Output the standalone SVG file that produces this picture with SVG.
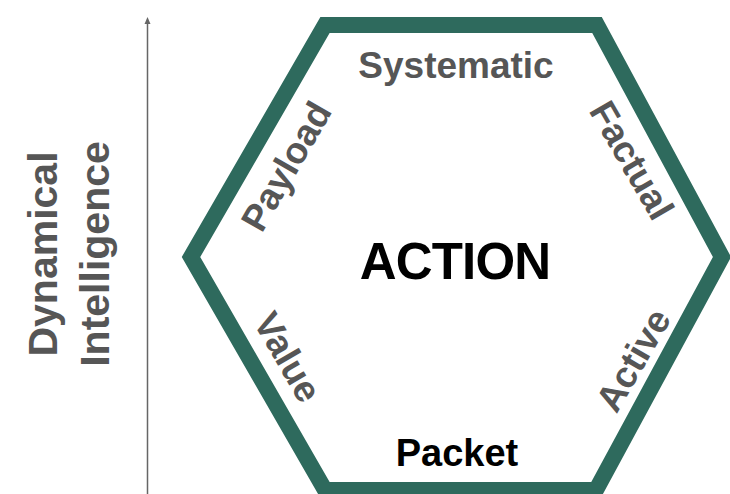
<svg xmlns="http://www.w3.org/2000/svg" width="730" height="494" viewBox="0 0 730 494">
<style>
.lbl{font-family:"Liberation Sans",Arial,sans-serif;font-weight:bold;fill:#565656;text-anchor:middle}
.blk{font-family:"Liberation Sans",Arial,sans-serif;font-weight:bold;fill:#000;text-anchor:middle}
</style>
<g id="connectors">
<line x1="147.5" y1="494" x2="147.5" y2="24" stroke="#666" stroke-width="1.5"/>
<path d="M144.5,24 L147.5,17 L150.5,24 Z" fill="#666"/>
</g>
<g id="axis-label">
<text class="lbl" font-size="41" transform="translate(57,254) rotate(-90)">Dynamical</text>
<text class="lbl" font-size="41" transform="translate(109,254) rotate(-90)">Intelligence</text>
</g>
<g id="hexagon">
<polygon points="325,25 597,25 722,257 596,490 325,490 191,257" fill="#fff" stroke="#2e6a5d" stroke-width="16" stroke-linejoin="miter"/>
</g>
<g id="center">
<text class="blk" font-size="51" letter-spacing="-0.8" x="455" y="279">ACTION</text>
</g>
<g id="systematic"><text class="lbl" font-size="37" x="456" y="78">Systematic</text></g>
<g id="packet"><text class="blk" font-size="38" x="457" y="466">Packet</text></g>
<g id="payload"><text class="lbl" font-size="37" transform="translate(286,166) rotate(-60)" y="13">Payload</text></g>
<g id="factual"><text class="lbl" font-size="37" transform="translate(632,160) rotate(60)" y="13">Factual</text></g>
<g id="value"><text class="lbl" font-size="37" transform="translate(288,357) rotate(60)" y="13">Value</text></g>
<g id="active"><text class="lbl" font-size="37" transform="translate(633,360) rotate(-60)" y="13">Active</text></g>
</svg>
